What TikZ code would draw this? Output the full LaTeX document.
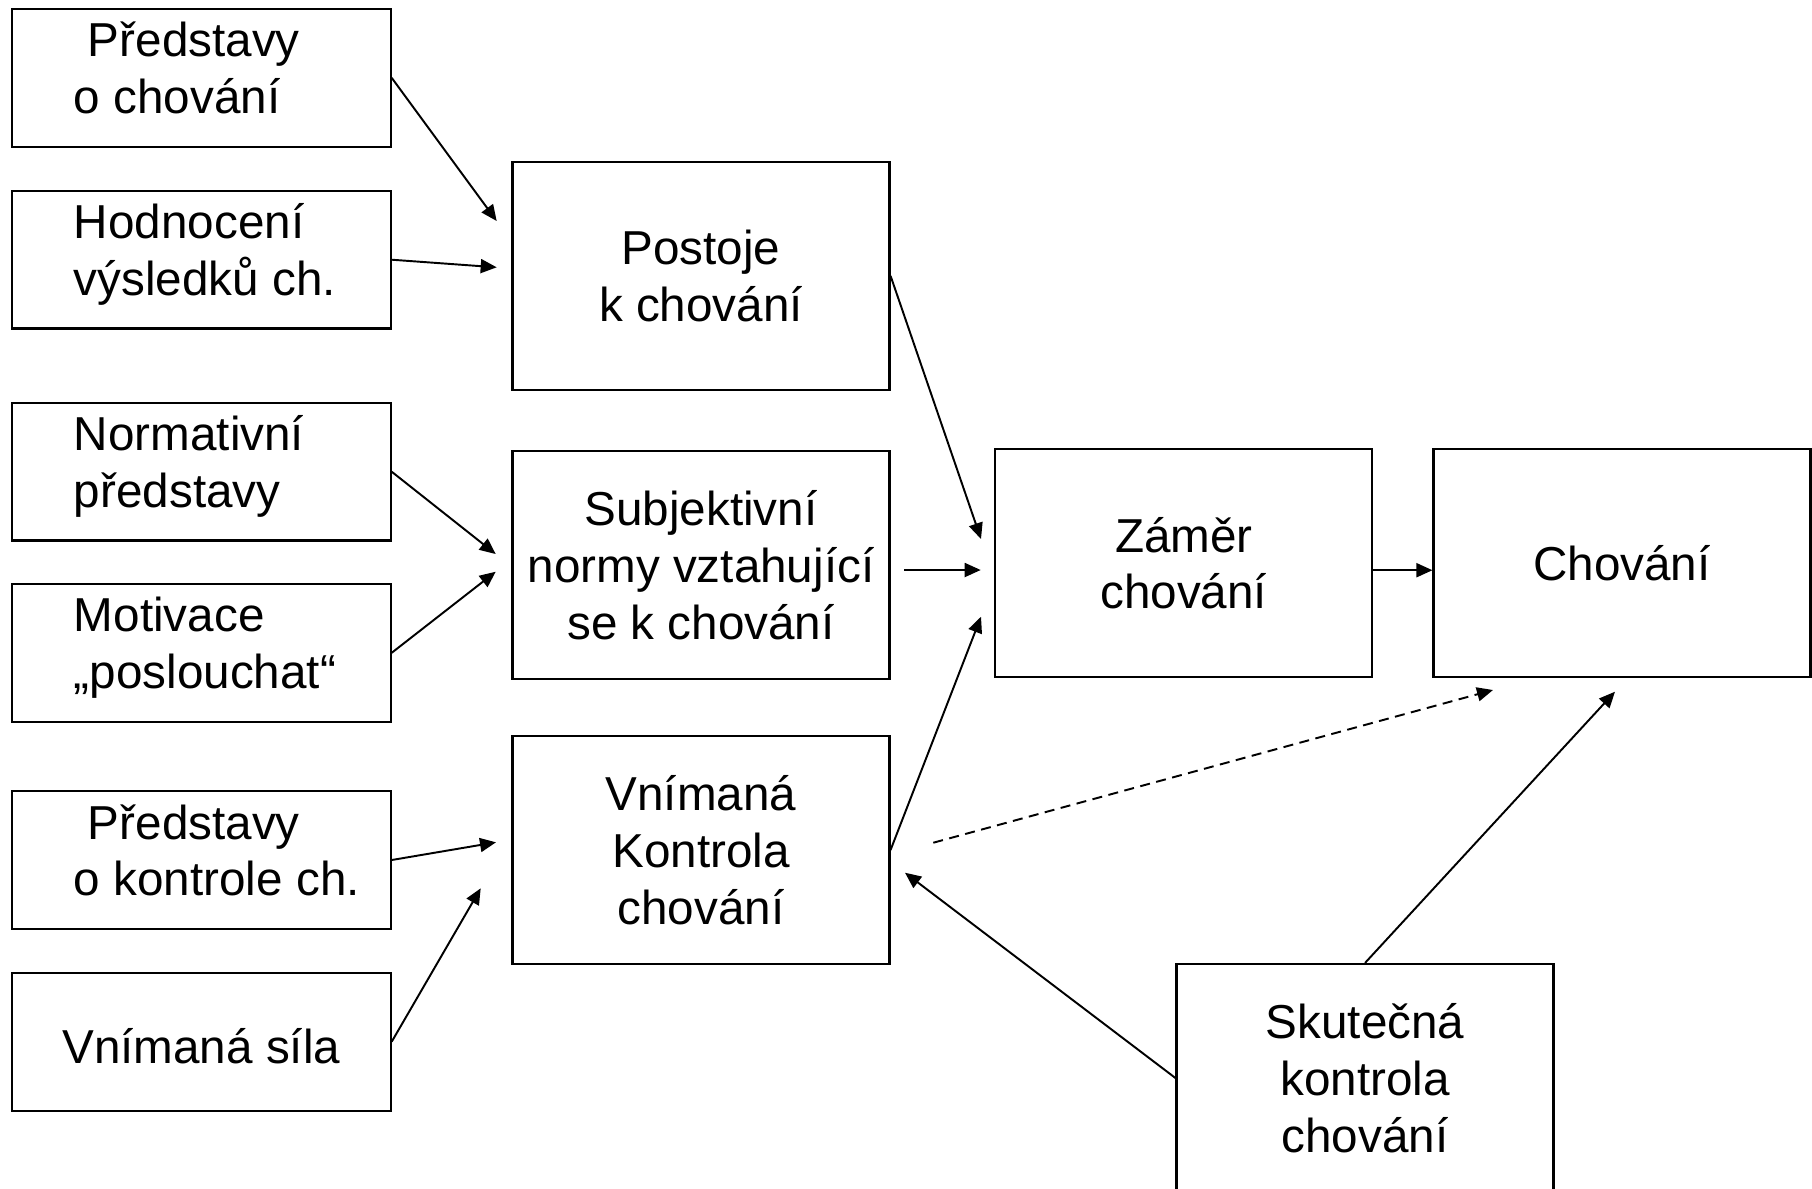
\documentclass[tikz,border=0pt]{standalone}
\usepackage{fontspec}
\setmainfont{Liberation Sans}
\usetikzlibrary{arrows.meta}
\protected\def\spacereset{\spaceskip=0pt\relax\xspaceskip=0pt\relax}
\tikzset{
  box/.style={
    draw=black,
    line width=0.6pt,
    minimum width=3.77cm,
    minimum height=2.28cm,
    inner sep=0pt,
    align=center,
    font=\fontsize{13.55pt}{16.2pt}\selectfont
  },
  leftbox/.style={
    box,
    minimum height=1.375cm,
    text width=2.547cm,
    text height=0.34cm,
    text depth=0.76cm,
    inner xsep=0.62cm,
    align=left,
    execute at begin node=\spacereset
  },
  link/.style={line width=0.55pt}
}

\begin{document}
\begin{tikzpicture}[>={Triangle[length=0.16cm,width=0.14cm]}]
\useasboundingbox (0,0) rectangle (18.12,-11.88);

\node[leftbox] (predstavy) at (2.013,-0.778)
  {\mbox{\hspace*{0.14cm}Představy}\\\mbox{o chování}};
\node[leftbox] (hodnoceni) at (2.013,-2.597)
  {\mbox{Hodnocení}\\\mbox{výsledků ch.}};
\node[leftbox] (normativni) at (2.013,-4.717)
  {\mbox{Normativní}\\\mbox{představy}};
\node[leftbox] (motivace) at (2.013,-6.528)
  {\mbox{Motivace}\\\mbox{„poslouchat“}};
\node[leftbox] (kontrolaPred) at (2.013,-8.60)
  {\mbox{\hspace*{0.14cm}Představy}\\\mbox{o kontrole ch.}};
\node[box, minimum width=3.787cm, minimum height=1.38cm,
  text height=0.5cm, text depth=0.06cm] (sila) at (2.013,-10.417)
  {Vnímaná síla};

\node[box] (postoje) at (7.01,-2.758)
  {Postoje\\k chování};
\node[box] (normy) at (7.01,-5.648)
  {Subjektivní\\normy vztahující\\se k chování};
\node[box] (vnimana) at (7.01,-8.50)
  {Vnímaná\\Kontrola\\chování};
\node[box] (zamer) at (11.838,-5.632)
  {Záměr\\chování};
\node[box] (chovani) at (16.22,-5.632)
  {Chování};
\node[box] (skutecna) at (13.65,-10.78)
  {Skutečná\\kontrola\\chování};

\coordinate (t1) at (4.967,-2.21);
\coordinate (t2) at (4.967,-2.673);
\coordinate (t3) at (4.957,-5.54);
\coordinate (t4) at (4.957,-5.717);
\coordinate (t5) at (4.96,-8.423);
\coordinate (t6) at (4.807,-8.883);
\coordinate (t7) at (9.81,-5.39);
\coordinate (s8) at (9.043,-5.70);
\coordinate (t8) at (9.807,-5.70);
\coordinate (t9) at (9.81,-6.167);
\coordinate (s11) at (9.333,-8.427);
\coordinate (t11) at (14.93,-6.90);
\coordinate (t12) at (16.15,-6.917);
\coordinate (t13) at (9.05,-8.727);

\begin{scope}[link]
\draw[->]
  (predstavy.east) -- (t1);
\draw[->]
  (hodnoceni.east) -- (t2);
\draw[->]
  (normativni.east) -- (t3);
\draw[->]
  (motivace.east) -- (t4);
\draw[->]
  (kontrolaPred.east) -- (t5);
\draw[->]
  (sila.east) -- (t6);
\draw[->]
  (postoje.east) -- (t7);
\draw[->]
  (s8) -- (t8);
\draw[->]
  (vnimana.east) -- (t9);
\draw[->]
  ([yshift=-0.07cm]zamer.east) -- ([yshift=-0.07cm]chovani.west);
\draw[->, dash pattern=on 0.1cm off 0.065cm]
  (s11) -- (t11);
\draw[->]
  (skutecna.north) -- (t12);
\draw[->]
  (skutecna.west) -- (t13);
\end{scope}
\end{tikzpicture}
\end{document}
